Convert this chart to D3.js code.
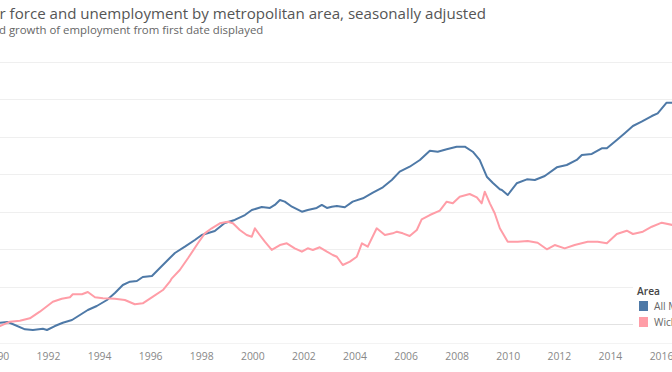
<!DOCTYPE html>
<html>
<head>
<meta charset="utf-8">
<script src="https://cdn.jsdelivr.net/npm/d3@7"></script>
<style>
  body { margin: 0; background: #fff; overflow: hidden; }
  svg { display: block; font-family: "Open Sans", sans-serif; }
</style>
</head>
<body>
<svg id="chart" width="672" height="372"></svg>
<script>
// growth of employment since first month (percent)
var metroYears = [1990.0, 1990.12, 1990.43, 1991.10, 1991.41, 1991.80, 1991.96, 1992.27, 1992.58, 1992.94,
  1993.25, 1993.56, 1993.91, 1994.31, 1994.62, 1994.93, 1995.21, 1995.48, 1995.71, 1996.07,
  1996.38, 1996.77, 1996.97, 1997.36, 1997.75, 1998.02, 1998.53, 1998.92, 1999.31, 1999.71,
  1999.98, 2000.37, 2000.69, 2000.88, 2001.08, 2001.27, 2001.55, 2001.94, 2002.17, 2002.52,
  2002.72, 2002.92, 2003.11, 2003.31, 2003.62, 2003.93, 2004.33, 2004.72, 2005.11, 2005.46,
  2005.77, 2006.16, 2006.56, 2006.95, 2007.26, 2007.61, 2008.00, 2008.32, 2008.63, 2008.90,
  2009.18, 2009.41, 2009.69, 2009.77, 2010.00, 2010.35, 2010.75, 2011.06, 2011.45, 2011.92,
  2012.31, 2012.70, 2012.90, 2013.29, 2013.68, 2013.88, 2014.27, 2014.58, 2014.90, 2015.24,
  2015.64, 2015.87, 2016.22, 2016.45];
var metroGrowth = [0.0, 0.17, 0.27, -0.71, -0.80, -0.63, -0.80, -0.27, 0.17, 0.53,
  1.20, 1.87, 2.40, 3.20, 4.13, 5.20, 5.64, 5.73, 6.27, 6.40,
  7.47, 8.80, 9.47, 10.31, 11.20, 11.87, 12.40, 13.47, 13.87, 14.53,
  15.20, 15.60, 15.47, 15.87, 16.53, 16.31, 15.64, 14.97, 15.20, 15.47,
  15.87, 15.47, 15.64, 15.73, 15.56, 16.31, 16.76, 17.51, 18.23, 19.20,
  20.31, 20.97, 21.87, 23.11, 22.97, 23.29, 23.64, 23.64, 22.97, 21.87,
  19.64, 18.84, 17.96, 17.87, 17.20, 18.76, 19.29, 19.20, 19.73, 20.89,
  21.20, 21.87, 22.53, 22.67, 23.43, 23.43, 24.53, 25.43, 26.40, 26.97,
  27.73, 28.09, 29.51, 29.51];

var wichitaYears = [1990.0, 1990.12, 1990.51, 1990.90, 1991.29, 1991.68, 1992.19, 1992.54, 1992.86, 1992.97,
  1993.33, 1993.56, 1993.84, 1994.15, 1994.62, 1995.01, 1995.40, 1995.71, 1996.11, 1996.50,
  1996.77, 1996.85, 1997.16, 1997.48, 1997.87, 1998.14, 1998.41, 1998.73, 1999.04, 1999.24,
  1999.51, 1999.78, 1999.98, 2000.10, 2000.29, 2000.49, 2000.76, 2001.08, 2001.35, 2001.66,
  2001.94, 2002.17, 2002.37, 2002.64, 2002.92, 2003.15, 2003.31, 2003.54, 2003.82, 2004.09,
  2004.29, 2004.52, 2004.87, 2005.19, 2005.50, 2005.66, 2005.89, 2006.16, 2006.44, 2006.63,
  2006.95, 2007.34, 2007.61, 2007.85, 2008.12, 2008.51, 2008.79, 2008.98, 2009.10, 2009.30,
  2009.49, 2009.69, 2010.00, 2010.39, 2010.78, 2011.17, 2011.53, 2011.84, 2012.23, 2012.62,
  2013.13, 2013.52, 2013.88, 2014.27, 2014.66, 2014.90, 2015.29, 2015.64, 2016.03, 2016.45];
var wichitaGrowth = [0.0, -0.27, 0.31, 0.44, 0.76, 1.64, 2.97, 3.37, 3.56, 3.96,
  3.96, 4.27, 3.56, 3.43, 3.37, 3.20, 2.63, 2.76, 3.64, 4.53,
  5.64, 6.09, 7.20, 8.76, 10.76, 12.09, 12.76, 13.43, 13.64, 13.43,
  12.53, 11.87, 11.64, 12.76, 11.87, 10.97, 9.87, 10.53, 10.76, 10.09,
  9.64, 10.09, 9.87, 10.23, 9.64, 9.20, 8.97, 7.87, 8.31, 8.97,
  10.76, 10.31, 12.76, 11.87, 12.09, 12.31, 12.09, 11.73, 12.53, 13.96,
  14.53, 15.11, 16.31, 16.09, 16.97, 17.33, 16.89, 16.09, 17.64, 16.09,
  14.76, 12.76, 10.97, 10.97, 11.07, 10.84, 9.96, 10.53, 10.09, 10.53,
  10.97, 10.97, 10.76, 12.00, 12.44, 12.00, 12.31, 12.97, 13.51, 13.20];

var yearTicks = [1990, 1992, 1994, 1996, 1998, 2000, 2002, 2004, 2006, 2008, 2010, 2012, 2014, 2016];
var gridValues = [0, 5, 10, 15, 20, 25, 30, 35];
var seriesNames = ["All Metropolitan Areas", "Wichita, KS"];
var seriesColors = ["#4e79a7", "#ff9da7"];

var svg = d3.select("#chart");

svg.append("text")
  .attr("x", -0.5).attr("y", 18.5)
  .attr("font-size", 15.1).attr("fill", "#555")
  .text("r force and unemployment by metropolitan area, seasonally adjusted");

svg.append("text")
  .attr("x", -1).attr("y", 34)
  .attr("font-size", 11.4).attr("fill", "#666")
  .text("d growth of employment from first date displayed");

var x = d3.scaleLinear().domain([1990, 2016]).range([-3.1, 661]);
var y = d3.scaleLinear().domain([0, 35]).range([324, 61.5]);

// grid
svg.append("g")
  .selectAll("line")
  .data(gridValues)
  .join("line")
    .attr("x1", 0).attr("x2", 672)
    .attr("y1", function(d) { return Math.round(y(d)) + 0.5; })
    .attr("y2", function(d) { return Math.round(y(d)) + 0.5; })
    .attr("stroke", function(d) { return d === 0 ? "#e2e2e2" : "#efefef"; })
    .attr("stroke-width", 1);

svg.append("line")
  .attr("x1", 0).attr("x2", 672).attr("y1", 343.5).attr("y2", 343.5)
  .attr("stroke", "#f3f3f3");

// x axis
var xAxis = svg.append("g")
  .attr("transform", "translate(0,348)")
  .call(d3.axisBottom(x).tickValues(yearTicks).tickFormat(d3.format("d")).tickSize(0).tickPadding(5));
xAxis.select(".domain").remove();
xAxis.selectAll("text")
  .attr("font-family", "Open Sans, sans-serif")
  .attr("font-size", 10.4)
  .attr("fill", "#888");

// lines
var line = d3.line()
  .x(function(d) { return x(d[0]); })
  .y(function(d) { return y(d[1]); });

var series = [
  d3.zip(metroYears, metroGrowth),
  d3.zip(wichitaYears, wichitaGrowth)
];

svg.append("g")
  .selectAll("path")
  .data(series)
  .join("path")
    .attr("fill", "none")
    .attr("stroke", function(d, i) { return seriesColors[i]; })
    .attr("stroke-width", 2)
    .attr("stroke-linejoin", "round")
    .attr("d", line);

// legend
var legend = svg.append("g").attr("transform", "translate(633,279)");
legend.append("rect")
  .attr("width", 40).attr("height", 56).attr("fill", "#fff");
legend.append("text")
  .attr("x", 4).attr("y", 16)
  .attr("font-size", 10.2).attr("font-weight", 600).attr("fill", "#444")
  .text("Area");
var items = legend.selectAll("g.item")
  .data(seriesNames)
  .join("g")
    .attr("class", "item")
    .attr("transform", function(d, i) { return "translate(6," + (22 + i * 16) + ")"; });
items.append("rect")
  .attr("width", 9).attr("height", 10)
  .attr("fill", function(d, i) { return seriesColors[i]; });
items.append("text")
  .attr("x", 15).attr("y", 9)
  .attr("font-size", 10.2).attr("fill", "#666")
  .text(function(d) { return d; });
</script>
</body>
</html>
